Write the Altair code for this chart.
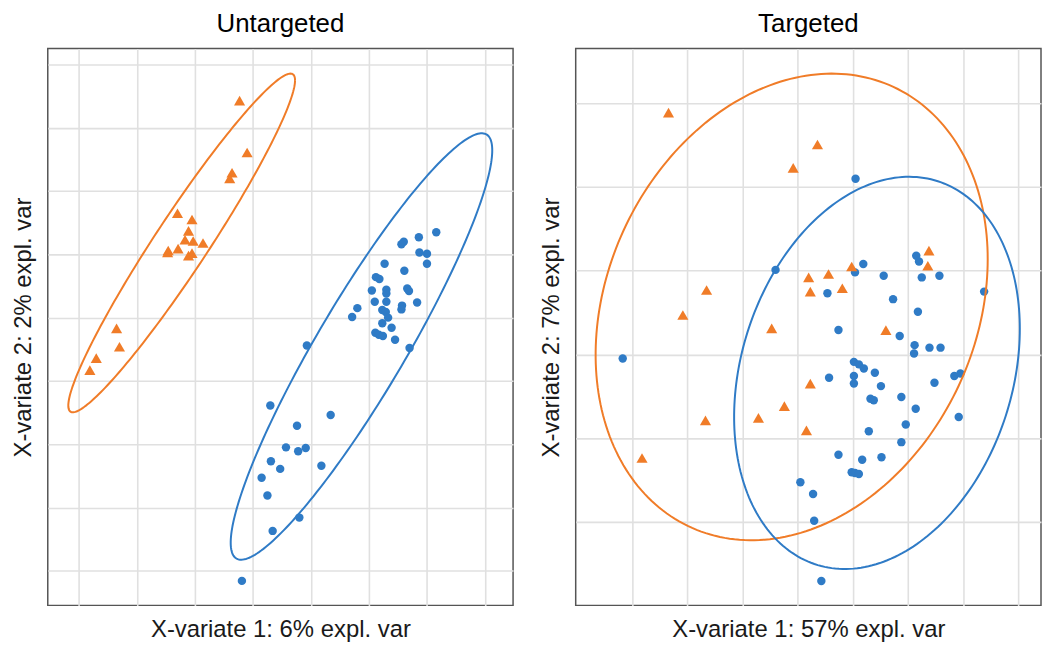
import altair as alt
import numpy as np
import pandas as pd

# ---------------- data (grid units) ----------------
unt_orange_x = [2.77, 2.90, 2.64, 2.60, 1.70, 1.95, 1.89, 1.83, 1.97, 2.14, 1.54, 1.71, 1.89, 1.95, 1.53, 0.65, 0.70, 0.30, 0.19]
unt_orange_y = [7.43, 6.61, 6.29, 6.20, 5.65, 5.55, 5.37, 5.23, 5.21, 5.18, 5.06, 5.09, 4.98, 5.02, 5.03, 3.83, 3.54, 3.36, 3.17]

unt_blue_x = [6.16, 5.86, 5.60, 5.56, 5.87, 6.00, 6.00, 5.27, 5.61, 5.12, 5.18, 5.66, 5.69, 5.05, 5.30, 5.30, 5.10,
              5.30, 5.83, 5.57, 5.56, 4.80, 4.71, 5.23, 5.29, 5.33, 5.23, 5.39, 5.11, 5.17, 5.24, 5.45, 5.70,
              3.93, 3.30, 4.34, 3.76, 3.57, 3.78, 3.91, 3.31, 3.47, 4.18, 3.15, 3.25, 3.80, 3.34, 2.81]
unt_blue_y = [5.35, 5.27, 5.20, 5.16, 5.03, 5.01, 4.85, 4.85, 4.74, 4.64, 4.61, 4.46, 4.42, 4.43, 4.44, 4.38, 4.25,
              4.25, 4.24, 4.19, 4.13, 4.15, 4.01, 4.12, 4.09, 4.00, 3.91, 3.84, 3.76, 3.73, 3.71, 3.65, 3.52,
              3.56, 2.61, 2.46, 2.29, 1.95, 1.89, 1.94, 1.73, 1.61, 1.66, 1.47, 1.19, 0.84, 0.63, -0.16]

tar_orange_x = [0.66, 3.36, 2.92, 5.38, 5.36, 3.98, 3.56, 3.20, 3.23, 3.81, 1.35, 0.92, 2.53, 4.60, 3.23, 2.76, 2.29, 1.33, 3.16, 0.18]
tar_orange_y = [4.89, 4.51, 4.23, 3.24, 3.06, 3.05, 2.96, 2.92, 2.75, 2.79, 2.77, 2.47, 2.31, 2.29, 1.65, 1.38, 1.24, 1.21, 1.09, 0.76]

tar_blue_x = [4.05, 5.15, 5.20, 4.19, 4.04, 4.56, 5.25, 5.57, 3.54, 6.38, 4.73, 5.18, 3.74, 4.85, 5.12, 5.11, 5.39,
              5.59, 4.02, 4.11, 4.20, 4.40, 3.57, 4.02, 4.02, 4.51, 5.48, 5.84, 5.95, 4.32, 4.38, 4.88, 5.14,
              5.92, 4.96, 4.29, 4.88, 3.74, 4.17, 4.52, 3.98, 4.04, 4.11, 3.05, 3.28, 3.30, 3.43, -0.17, 2.60]
tar_blue_y = [4.10, 3.18, 3.11, 3.08, 2.98, 2.94, 2.92, 2.94, 2.73, 2.75, 2.66, 2.51, 2.29, 2.22, 2.11, 2.01, 2.08,
              2.08, 1.91, 1.88, 1.83, 1.78, 1.72, 1.74, 1.65, 1.62, 1.66, 1.74, 1.77, 1.47, 1.45, 1.49, 1.35,
              1.25, 1.16, 1.08, 0.95, 0.80, 0.74, 0.77, 0.59, 0.58, 0.57, 0.47, 0.33, 0.01, -0.71, 1.95, 3.01]

# confidence ellipses: centre x, centre y, half-width, half-height, correlation
unt_ell_orange = [1.772, 5.180, 1.954, 2.676, 0.960]
unt_ell_blue = [4.871, 3.544, 2.254, 3.369, 0.920]
tar_ell_orange = [2.892, 2.567, 3.553, 2.790, 0.205]
tar_ell_blue = [4.438, 1.778, 2.589, 2.345, 0.225]

titles = ["Untargeted", "Targeted"]
x_titles = ["X-variate 1: 6% expl. var", "X-variate 1: 57% expl. var"]
y_titles = ["X-variate 2: 2% expl. var", "X-variate 2: 7% expl. var"]

ORANGE = "#F07C28"
BLUE = "#2F7BC6"
FONT = "Liberation Sans"


def ellipse_df(p, n=240):
    cx, cy, hw, hh, r = p
    t = np.linspace(0, 2 * np.pi, n)
    return pd.DataFrame({
        "x": cx + hw * np.cos(t),
        "y": cy + hh * (r * np.cos(t) + np.sqrt(1 - r * r) * np.sin(t)),
        "i": np.arange(n),
    })


def panel(title, xt, yt, ox, oy, bx, by, eo, eb, xdom, ydom, xgrid, ygrid):
    xenc = alt.X("x:Q", scale=alt.Scale(domain=xdom, nice=False, zero=False),
                 axis=alt.Axis(title=xt, values=xgrid, labels=False, ticks=False, domain=False,
                               grid=True, titlePadding=12))
    yenc = alt.Y("y:Q", scale=alt.Scale(domain=ydom, nice=False, zero=False),
                 axis=alt.Axis(title=yt, values=ygrid, labels=False, ticks=False, domain=False,
                               grid=True, titlePadding=12))
    pts_b = alt.Chart(pd.DataFrame({"x": bx, "y": by})).mark_point(
        shape="circle", filled=True, size=72, color=BLUE, opacity=1).encode(x=xenc, y=yenc)
    pts_o = alt.Chart(pd.DataFrame({"x": ox, "y": oy})).mark_point(
        shape="triangle-up", filled=True, size=125, color=ORANGE, opacity=1).encode(x=xenc, y=yenc)
    ell_o = alt.Chart(ellipse_df(eo)).mark_line(color=ORANGE, strokeWidth=2, clip=True).encode(
        x=xenc, y=yenc, order="i:Q")
    ell_b = alt.Chart(ellipse_df(eb)).mark_line(color=BLUE, strokeWidth=2, clip=True).encode(
        x=xenc, y=yenc, order="i:Q")
    return alt.layer(pts_b, pts_o, ell_o, ell_b).properties(width=468, height=560, title=title)


left = panel(titles[0], x_titles[0], y_titles[0], unt_orange_x, unt_orange_y, unt_blue_x, unt_blue_y,
             unt_ell_orange, unt_ell_blue, [-0.536, 7.484], [-0.547, 8.251],
             list(range(0, 8)), list(range(0, 9)))
right = panel(titles[1], x_titles[1], y_titles[1], tar_orange_x, tar_orange_y, tar_blue_x, tar_blue_y,
              tar_ell_orange, tar_ell_blue, [-1.022, 7.411], [-1.002, 5.656],
              list(range(0, 8)), list(range(0, 6)))

chart = alt.hconcat(left, right, spacing=25).properties(
    padding={"left": 3, "top": 0, "right": 0, "bottom": 0}
).configure_view(
    stroke="#555555", strokeWidth=1.5
).configure_axis(
    gridColor="#E0E0E0", gridWidth=1.6, titleFont=FONT, titleFontSize=24,
    titleFontWeight="normal", titleColor="#1a1a1a"
).configure_title(
    font=FONT, fontSize=26, fontWeight="normal", anchor="middle", color="#000000", offset=12
)

chart.save("out.html", embed_options={"renderer": "svg", "actions": False})
